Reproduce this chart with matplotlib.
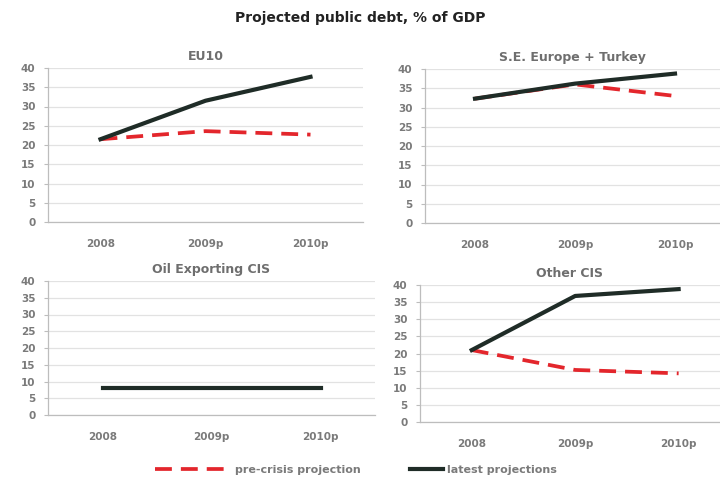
import matplotlib
matplotlib.use("Agg")
import matplotlib.pyplot as plt
from matplotlib.lines import Line2D

# projected public debt, % of GDP
years = ["2008", "2009p", "2010p"]

eu10_pre = [21.5, 23.6, 22.7]
eu10_latest = [21.5, 31.5, 37.7]

see_pre = [32.3, 36.0, 33.0]
see_latest = [32.3, 36.2, 38.8]

oil_cis_pre = [8.2, 8.2, 8.2]
oil_cis_latest = [8.2, 8.2, 8.2]

other_cis_pre = [21.0, 15.2, 14.2]
other_cis_latest = [21.0, 36.8, 38.8]

RED = "#e3262c"
DARK = "#1f2c27"
GRID = "#e2e2e2"
TXT = "#7a7a7a"

W, H = 720, 483
fig = plt.figure(figsize=(W / 100, H / 100), dpi=100)
fig.patch.set_facecolor("white")


def px_axes(left, top, right, bottom):
    return fig.add_axes([left / W, 1 - bottom / H, (right - left) / W, (bottom - top) / H])


panels = [
    ("EU10", eu10_pre, eu10_latest, (48, 68, 363, 222), 2.5),
    ("S.E. Europe + Turkey", see_pre, see_latest, (425, 69, 720, 223), 2.45),
    ("Oil Exporting CIS", oil_cis_pre, oil_cis_latest, (48, 281, 375, 415), 2.5),
    ("Other CIS", other_cis_pre, other_cis_latest, (420, 285, 720, 422), 2.4),
]

for title, pre, latest, box, xmax in panels:
    ax = px_axes(*box)
    x = range(len(years))
    ax.plot(x, pre, color=RED, lw=2.7, dashes=(4.5, 2.4), zorder=3)
    ax.plot(x, latest, color=DARK, lw=3.0, zorder=4)
    ax.set_xlim(-0.5, xmax)
    ax.set_ylim(0, 40)
    ax.set_yticks(range(0, 41, 5))
    ax.set_xticks(list(x))
    ax.set_xticklabels(years)
    ax.yaxis.grid(True, color=GRID, lw=0.9)
    ax.set_axisbelow(True)
    for s in ["top", "right"]:
        ax.spines[s].set_visible(False)
    for s in ["left", "bottom"]:
        ax.spines[s].set_color("#bdbdbd")
        ax.spines[s].set_linewidth(0.9)
    ax.tick_params(axis="y", length=3, color="#bdbdbd", labelsize=7.5,
                   labelcolor=TXT, pad=6)
    ax.tick_params(axis="x", length=0, labelsize=7.5, labelcolor=TXT, pad=12)
    for lab in ax.get_xticklabels() + ax.get_yticklabels():
        lab.set_fontweight("bold")
    ax.set_title(title, fontsize=9, fontweight="bold", color="#6e6e6e", pad=6)

fig.text(0.5, 1 - 18 / H, "Projected public debt, % of GDP", ha="center", va="center",
         fontsize=10, fontweight="bold", color="#222222")

# legend entries placed separately, as in the original layout
leg1 = fig.legend([Line2D([], [], color=RED, lw=2.7, dashes=(4.5, 2.4))],
                  ["pre-crisis projection"], loc="center left",
                  bbox_to_anchor=(145 / W, 1 - 470 / H), frameon=False,
                  handlelength=6.5, handletextpad=0.7,
                  prop={"size": 8, "weight": "bold"})
for t in leg1.get_texts():
    t.set_color(TXT)
leg2 = fig.legend([Line2D([], [], color=DARK, lw=3.0)],
                  ["latest projections"], loc="center left",
                  bbox_to_anchor=(400 / W, 1 - 470 / H), frameon=False,
                  handlelength=3.0, handletextpad=0.3,
                  prop={"size": 8, "weight": "bold"})
for t in leg2.get_texts():
    t.set_color(TXT)

fig.savefig("out.png", dpi=100, facecolor="white")
